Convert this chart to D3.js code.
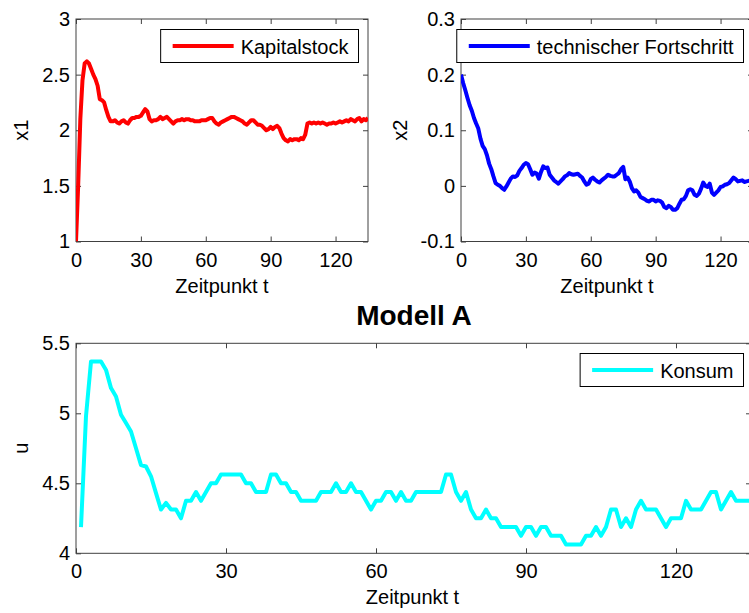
<!DOCTYPE html>
<html>
<head>
<meta charset="utf-8">
<script src="https://cdn.jsdelivr.net/npm/d3@7"></script>
<style>
  body { margin: 0; background: #fff; }
  svg { display: block; font-family: "Liberation Sans", Arial, sans-serif; }
  .tick text { font-size: 20px; fill: #000; }
  .tick line { stroke: #404040; }
</style>
</head>
<body>
<svg id="chart" width="749" height="613"></svg>
<script>
var width = 749;
var height = 613;

// time index
var tState = d3.range(0, 136);   // x1, x2 start at t = 0
var tU = d3.range(1, 136);       // u starts at t = 1

// Kapitalstock (x1)
var x1Values = [
  1.00, 1.50, 2.10, 2.45, 2.60, 2.62, 2.60, 2.55, 2.50, 2.46,
  2.40, 2.28, 2.27, 2.25, 2.18, 2.12, 2.08, 2.08, 2.09, 2.07,
  2.06, 2.08, 2.09, 2.07, 2.06, 2.09, 2.11, 2.11, 2.12, 2.12,
  2.13, 2.16, 2.19, 2.17, 2.10, 2.08, 2.09, 2.09, 2.10, 2.12,
  2.10, 2.11, 2.12, 2.10, 2.08, 2.06, 2.08, 2.09, 2.09, 2.10,
  2.09, 2.10, 2.10, 2.09, 2.09, 2.08, 2.08, 2.08, 2.09, 2.09,
  2.09, 2.10, 2.11, 2.11, 2.08, 2.06, 2.05, 2.07, 2.08, 2.09,
  2.10, 2.11, 2.12, 2.12, 2.11, 2.10, 2.09, 2.08, 2.06, 2.05,
  2.07, 2.09, 2.09, 2.07, 2.05, 2.05, 2.04, 2.02, 2.00, 2.01,
  2.03, 2.01, 2.03, 2.04, 2.02, 1.97, 1.93, 1.91, 1.90, 1.92,
  1.91, 1.92, 1.92, 1.91, 1.93, 1.92, 1.96, 2.06, 2.07, 2.06,
  2.07, 2.06, 2.07, 2.06, 2.07, 2.06, 2.05, 2.06, 2.06, 2.07,
  2.06, 2.07, 2.08, 2.07, 2.08, 2.09, 2.08, 2.10, 2.09, 2.08,
  2.10, 2.11, 2.08, 2.10, 2.09, 2.11
];

// technischer Fortschritt (x2)
var x2Values = [
  0.200, 0.185, 0.172, 0.158, 0.145, 0.135, 0.122, 0.112, 0.103, 0.085,
  0.072, 0.066, 0.055, 0.040, 0.030, 0.017, 0.005, 0.002, 0.000, -0.004,
  -0.007, -0.001, 0.006, 0.013, 0.017, 0.016, 0.019, 0.027, 0.032, 0.038,
  0.041, 0.039, 0.030, 0.020, 0.024, 0.022, 0.013, 0.025, 0.035, 0.032,
  0.033, 0.020, 0.015, 0.010, 0.007, 0.004, 0.008, 0.012, 0.017, 0.019,
  0.023, 0.021, 0.020, 0.021, 0.022, 0.018, 0.015, 0.008, 0.002, 0.004,
  0.012, 0.015, 0.011, 0.008, 0.006, 0.010, 0.013, 0.016, 0.020, 0.018,
  0.017, 0.017, 0.020, 0.023, 0.030, 0.034, 0.012, 0.015, 0.008, -0.004,
  -0.010, -0.008, -0.012, -0.020, -0.022, -0.024, -0.027, -0.028, -0.025, -0.025,
  -0.028, -0.026, -0.027, -0.030, -0.038, -0.040, -0.036, -0.038, -0.043, -0.043,
  -0.040, -0.032, -0.025, -0.024, -0.018, -0.008, -0.006, -0.008, -0.016, -0.018,
  -0.014, -0.005, 0.006, 0.000, -0.002, 0.004, -0.012, -0.016, -0.012, -0.008,
  -0.002, -0.001, 0.002, 0.003, 0.005, 0.010, 0.015, 0.012, 0.008, 0.009,
  0.010, 0.007, 0.008, 0.009, 0.010, 0.009
];

// Konsum (u)
var uValues = [
  4.1875, 4.98, 5.37, 5.37, 5.37, 5.31, 5.18, 5.12, 4.99, 4.93,
  4.87, 4.75, 4.63, 4.62, 4.55, 4.43, 4.3125, 4.36, 4.3125, 4.3125,
  4.25, 4.375, 4.375, 4.4375, 4.375, 4.4375, 4.5, 4.5, 4.5625, 4.5625,
  4.5625, 4.5625, 4.5625, 4.5, 4.5, 4.4375, 4.4375, 4.4375, 4.5625, 4.5625,
  4.5, 4.5, 4.4375, 4.4375, 4.375, 4.375, 4.375, 4.375, 4.4375, 4.4375,
  4.4375, 4.5, 4.4375, 4.4375, 4.5, 4.4375, 4.4375, 4.375, 4.3125, 4.375,
  4.375, 4.4375, 4.4375, 4.375, 4.4375, 4.375, 4.375, 4.4375, 4.4375, 4.4375,
  4.4375, 4.4375, 4.4375, 4.5625, 4.5625, 4.4375, 4.375, 4.4375, 4.3125, 4.25,
  4.25, 4.3125, 4.25, 4.25, 4.1875, 4.1875, 4.1875, 4.1875, 4.125, 4.1875,
  4.1875, 4.125, 4.1875, 4.1875, 4.125, 4.125, 4.125, 4.0625, 4.0625, 4.0625,
  4.0625, 4.125, 4.125, 4.1875, 4.125, 4.1875, 4.3125, 4.3125, 4.1875, 4.25,
  4.1875, 4.3125, 4.375, 4.3125, 4.3125, 4.3125, 4.25, 4.1875, 4.25, 4.25,
  4.25, 4.375, 4.3125, 4.3125, 4.3125, 4.375, 4.4375, 4.4375, 4.3125, 4.375,
  4.4375, 4.375, 4.375, 4.375, 4.375
];

var xTicks = [0, 30, 60, 90, 120];
var x1Ticks = [1, 1.5, 2, 2.5, 3];
var x2Ticks = [-0.1, 0, 0.1, 0.2, 0.3];
var uTicks = [4, 4.5, 5, 5.5];

var svg = d3.select("#chart");

// draws one MATLAB-like panel
function panel(opt) {
  var x = d3.scaleLinear().domain([0, 135]).range([opt.left, opt.right]);
  var y = d3.scaleLinear().domain(opt.yDomain).range([opt.bottom, opt.top]);
  var g = svg.append("g");
  var clipId = "clip" + opt.id;

  svg.append("clipPath").attr("id", clipId)
    .append("rect")
    .attr("x", opt.left).attr("y", opt.top)
    .attr("width", opt.right - opt.left).attr("height", opt.bottom - opt.top);

  // ticks pointing inside on all four sides
  g.append("g").attr("transform", "translate(0," + opt.bottom + ")")
    .call(d3.axisBottom(x).tickValues(xTicks).tickSizeInner(-5).tickSizeOuter(0).tickPadding(11))
    .call(function (s) { s.select(".domain").remove(); });
  g.append("g").attr("transform", "translate(0," + opt.top + ")")
    .call(d3.axisTop(x).tickValues(xTicks).tickSizeInner(-5).tickSizeOuter(0).tickFormat(""))
    .call(function (s) { s.select(".domain").remove(); });
  g.append("g").attr("transform", "translate(" + opt.left + ",0)")
    .call(d3.axisLeft(y).tickValues(opt.yTicks).tickSizeInner(-5).tickSizeOuter(0).tickPadding(6)
      .tickFormat(function (d) { return String(+d.toFixed(2)); }))
    .call(function (s) { s.select(".domain").remove(); });
  g.append("g").attr("transform", "translate(" + opt.right + ",0)")
    .call(d3.axisRight(y).tickValues(opt.yTicks).tickSizeInner(-5).tickSizeOuter(0).tickFormat(""))
    .call(function (s) { s.select(".domain").remove(); });

  g.selectAll("text").attr("fill", "#000").style("font-size", "20px");

  g.append("rect")
    .attr("x", opt.left).attr("y", opt.top)
    .attr("width", opt.right - opt.left).attr("height", opt.bottom - opt.top)
    .attr("fill", "none").attr("stroke", "#404040").attr("stroke-width", 1);

  var line = d3.line()
    .x(function (d) { return x(d[0]); })
    .y(function (d) { return y(d[1]); });

  g.append("path")
    .datum(d3.zip(opt.t, opt.values))
    .attr("clip-path", "url(#" + clipId + ")")
    .attr("fill", "none")
    .attr("stroke", opt.color)
    .attr("stroke-width", 4)
    .attr("stroke-linejoin", "round")
    .attr("d", line);

  // x label
  g.append("text")
    .attr("x", (opt.left + Math.min(opt.right, width)) / 2 + (opt.xLabelShift || 0))
    .attr("y", opt.bottom + 51)
    .attr("text-anchor", "middle")
    .style("font-size", "20px")
    .text("Zeitpunkt t");

  // y label
  g.append("text")
    .attr("transform", "translate(" + opt.yLabelX + "," + ((opt.top + opt.bottom) / 2) + ") rotate(-90)")
    .attr("text-anchor", "middle")
    .style("font-size", "20px")
    .text(opt.yLabel);

  // legend, right aligned
  var lg = g.append("g");
  var box = lg.append("rect")
    .attr("fill", "#fff").attr("stroke", "#000").attr("stroke-width", 1);
  var txt = lg.append("text")
    .style("font-size", "20px")
    .attr("y", opt.legendTop + 24)
    .text(opt.legend);
  var tw = txt.node().getComputedTextLength();
  var bw = 12 + 61 + 7 + tw + 10;
  var bx = opt.legendRight - bw;
  box.attr("x", bx).attr("y", opt.legendTop).attr("width", bw).attr("height", 33);
  txt.attr("x", bx + 12 + 61 + 7);
  lg.append("line")
    .attr("x1", bx + 12).attr("x2", bx + 12 + 61)
    .attr("y1", opt.legendTop + 16.5).attr("y2", opt.legendTop + 16.5)
    .attr("stroke", opt.color).attr("stroke-width", 4);
}

panel({
  id: 1, left: 76, right: 368, top: 19, bottom: 241.5,
  yDomain: [1, 3], yTicks: x1Ticks, t: tState, values: x1Values,
  color: "#ff0000", yLabel: "x1", yLabelX: 28,
  legend: "Kapitalstock", legendRight: 358.5, legendTop: 29.5
});

panel({
  id: 2, left: 461, right: 753, top: 19, bottom: 241.5,
  yDomain: [-0.1, 0.3], yTicks: x2Ticks, t: tState, values: x2Values,
  color: "#0000ff", yLabel: "x2", yLabelX: 407, xLabelShift: 2,
  legend: "technischer Fortschritt", legendRight: 743.5, legendTop: 29.5
});

panel({
  id: 3, left: 76, right: 751, top: 343.3, bottom: 553.3,
  yDomain: [4, 5.5], yTicks: uTicks, t: tU, values: uValues,
  color: "#00ffff", yLabel: "u", yLabelX: 28, xLabelShift: 0,
  legend: "Konsum", legendRight: 743.5, legendTop: 353.5
});

svg.append("text")
  .attr("x", 414)
  .attr("y", 325)
  .attr("text-anchor", "middle")
  .style("font-size", "28px")
  .style("font-weight", "bold")
  .text("Modell A");
</script>
</body>
</html>
